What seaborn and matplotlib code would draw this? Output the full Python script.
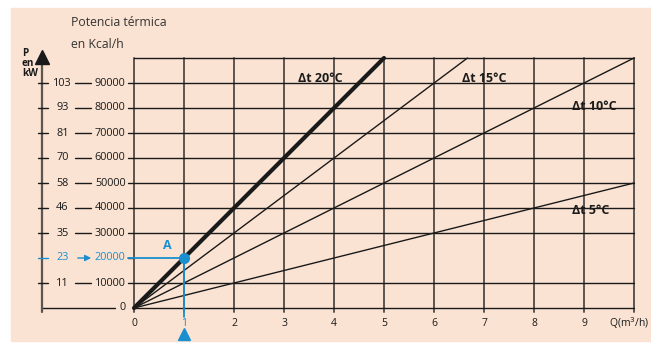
import pandas as pd
import matplotlib.pyplot as plt
import seaborn as sns

# Data
delta_t = ["Δt 20°C", "Δt 15°C", "Δt 10°C", "Δt 5°C"]
q_start = [0, 0, 0, 0]
q_end = [5, 6.67, 10, 10]
p_start = [0, 0, 0, 0]
p_end = [100000, 100000, 100000, 50000]

kcal_ticks = [0, 10000, 20000, 30000, 40000, 50000, 60000, 70000, 80000, 90000]
kw_labels = ["", "11", "23", "35", "46", "58", "70", "81", "93", "103"]
q_ticks = [0, 1, 2, 3, 4, 5, 6, 7, 8, 9, 10]
point_a = (1, 20000)

rows = []
for name, q0, q1, p0, p1 in zip(delta_t, q_start, q_end, p_start, p_end):
    rows.append({"serie": name, "Q": q0, "P": p0})
    rows.append({"serie": name, "Q": q1, "P": p1})
df = pd.DataFrame(rows)

sns.set_style("white")
plt.rcParams["font.family"] = ["Open Sans", "DejaVu Sans"]

bg = "#fae3d2"
blue = "#1a8fd0"
dark = "#1a1a1a"
grid_v = "#5d5550"

fig = plt.figure(figsize=(6.51, 3.43), dpi=100)
ax = fig.add_axes([0, 0, 1, 1])
ax.set_xlim(-2.68, 10.34)
ax.set_ylim(-14000, 123200)
ax.axis("off")

# peach panel
ax.add_patch(plt.Rectangle((-2.46, -13000), 13.0, 133000, color=bg, zorder=0))

# vertical grid
for q in q_ticks:
    ax.plot([q, q], [-1500, 100000], color=grid_v, lw=1.4, zorder=1)
    if q < 10:
        ax.text(q, -6000, str(q), ha="center", va="center", fontsize=7.5,
                color=blue if q == 1 else dark, zorder=3)

# horizontal grid
ax.plot([0, 10], [100000, 100000], color=dark, lw=1.0, zorder=1)
for p in kcal_ticks[1:]:
    ax.plot([-0.12, 10 if p != point_a[1] else 0], [p, p], color=dark, lw=1.0, zorder=1)
ax.plot([-1.84, -0.38], [0, 0], color=dark, lw=1.0, zorder=1)
ax.plot([0, 10], [0, 0], color=dark, lw=1.0, zorder=1)

# lines by delta t
sns.lineplot(data=df, x="Q", y="P", hue="serie", palette=[dark] * 4,
             size="serie", sizes=[3.0, 1.0, 1.0, 1.0], legend=False, ax=ax, zorder=2)

label_pos = {"Δt 20°C": (3.28, 92000), "Δt 15°C": (6.56, 92000),
             "Δt 10°C": (8.76, 80400), "Δt 5°C": (8.76, 39200)}
for name in delta_t:
    x, y = label_pos[name]
    ax.text(x, y, name, fontsize=9, fontweight="bold", ha="left", va="center",
            color=dark, zorder=4)

# left kW axis with arrow
ax_x = -1.84
ax.plot([ax_x, ax_x], [-1500, 98000], color=grid_v, lw=1.6, zorder=1)
ax.plot(ax_x, 100600, marker="^", ms=10, color=dark, zorder=3)
ax.text(-2.24, 104000, "P\nen\nkW", fontsize=7.2, fontweight="bold", ha="left",
        va="top", linespacing=0.85, color=dark)
ax.text(-1.26, 114400, "Potencia térmica", fontsize=8.8, color="#333333", va="center")
ax.text(-1.26, 105600, "en Kcal/h", fontsize=8.8, color="#333333", va="center")

for p, kw in zip(kcal_ticks, kw_labels):
    c = blue if p == point_a[1] else dark
    ax.text(-0.17, p, str(p), ha="right", va="center", fontsize=7.8, color=c, zorder=3)
    if p == 0:
        continue
    ax.plot([ax_x - 0.08, ax_x + 0.12], [p, p], color=c, lw=1.0, zorder=2)
    ax.text(-1.43, p, kw, ha="center", va="center", fontsize=7.8, color=c, zorder=3)
    if p == point_a[1]:
        ax.annotate("", xy=(-0.8, p), xytext=(-1.18, p),
                    arrowprops=dict(arrowstyle="-|>", color=blue, lw=1.0,
                                    mutation_scale=9), zorder=3)
    else:
        ax.plot([-1.18, -0.86], [p, p], color=dark, lw=1.0, zorder=2)

# point A
qa, pa = point_a
ax.plot([-0.12, qa], [pa, pa], color=blue, lw=1.3, zorder=3)
ax.plot([qa, qa], [pa, -3500], color=blue, lw=1.3, zorder=3)
ax.plot([qa], [pa], marker="o", ms=7, color=blue, zorder=5)
ax.plot([qa], [-10400], marker="^", ms=8, color=blue, zorder=5)
ax.text(0.66, 25000, "A", fontsize=9, fontweight="bold", color=blue,
        ha="center", va="center", zorder=5)

ax.text(9.5, -6000, "Q(m$^3$/h)", fontsize=7.5, ha="left", va="center", color=dark)

fig.savefig("out.png", dpi=100)
